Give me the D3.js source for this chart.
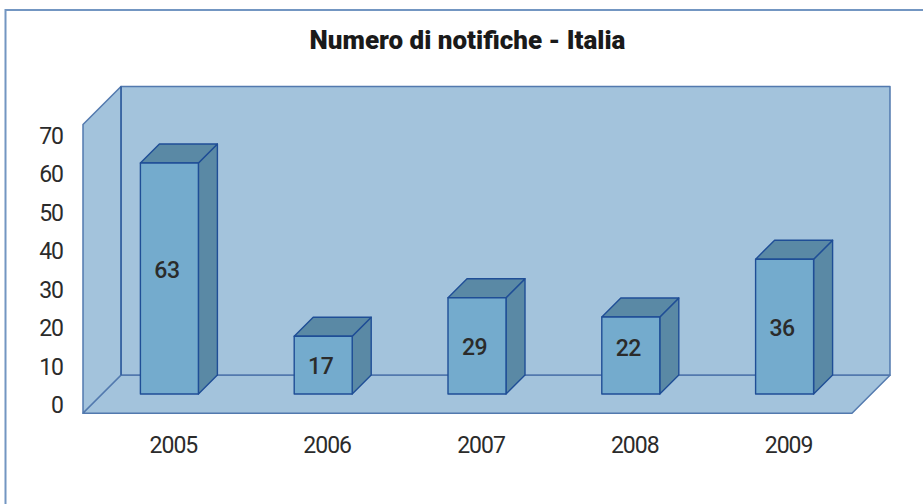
<!DOCTYPE html>
<html>
<head>
<meta charset="utf-8">
<script src="https://cdn.jsdelivr.net/npm/d3@7"></script>
<style>
html, body { margin: 0; padding: 0; background: #fff; overflow: hidden; }
svg { display: block; }
text { font-family: Roboto, sans-serif; fill: #2b2b2b; }
</style>
</head>
<body>
<div id="graphic"></div>
<script>
var years = ['2005','2006','2007','2008','2009'];
// height of each bar against the axis, the printed numbers do not quite agree with it
var barHeights = [60,15,25,20,35];
var barLabels = ['63','17','29','22','36'];
var yTicks = [0,10,20,30,40,50,60,70];

var width = 923, height = 504;
var depth = 19;      // one step of 3d depth, the box is two steps deep
var barWidth = 58;
var floorValue = -5;

var outlineColor = '#1f4e96';
var wallColor = '#a3c3dc';
var wallStroke = '#5279ae';
var barFront = '#74abcd';
var barDark = '#5a89a5';

// the printed numbers are not all in the middle of their bars
var labelShift = [-8.5,1,1,-7.5,1];

var svg = d3.select('#graphic').append('svg')
	.attr('width', width)
	.attr('height', height);

var x = d3.scaleBand().domain(years).range([83,852]);
var y = d3.scaleLinear().domain([0,70]).range([394,124.5]);

var line = d3.line();

// frame runs off the page on the right and at the bottom
svg.append('path')
	.attr('d', line([[5.5,height],[5.5,10],[width,10]]))
	.attr('fill', 'none')
	.attr('stroke', '#7396c2')
	.attr('stroke-width', 2);

svg.append('text')
	.attr('x', 467.5).attr('y', 48.5)
	.attr('text-anchor', 'middle')
	.style('font-size', '26px')
	.style('font-weight', 900)
	.style('fill', '#1a1a1a')
	.text('Numero di notifiche - Italia');

// box corners
var left = x.range()[0], right = x.range()[1];
var yTop = y(70), yFloor = y(floorValue);
var d2 = depth * 2;

function face(points, fill, stroke, sw) {
	svg.append('path')
		.attr('d', line(points) + 'Z')
		.attr('fill', fill)
		.attr('stroke', stroke)
		.attr('stroke-width', sw)
		.attr('stroke-linejoin', 'round');
}

// back wall, side wall, floor
face([[left+d2,yTop-d2],[right+d2,yTop-d2],[right+d2,yFloor-d2],[left+d2,yFloor-d2]], wallColor, wallStroke, 1.5);
face([[left,yTop],[left+d2,yTop-d2],[left+d2,yFloor-d2],[left,yFloor]], wallColor, wallStroke, 1.5);
face([[left,yFloor],[left+d2,yFloor-d2],[right+d2,yFloor-d2],[right,yFloor]], wallColor, wallStroke, 1.5);
svg.append('path')
	.attr('d', line([[left+d2,yTop-d2],[left+d2,yFloor-d2]]))
	.attr('stroke', outlineColor).attr('fill', 'none');

years.forEach(function(year, i) {
	var x0 = x(year) + x.bandwidth() / 2 - barWidth / 2 + 9.5;
	var x1 = x0 + barWidth;
	var y0 = y(0);
	var y1 = y(barHeights[i]);

	face([[x1,y0],[x1+depth,y0-depth],[x1+depth,y1-depth],[x1,y1]], barDark, outlineColor, 1.4);
	face([[x0,y1],[x0+depth,y1-depth],[x1+depth,y1-depth],[x1,y1]], barDark, outlineColor, 1.4);
	face([[x0,y0],[x1,y0],[x1,y1],[x0,y1]], barFront, outlineColor, 1.4);

	svg.append('text')
		.attr('x', x0 + barWidth / 2 - 2.5)
		.attr('y', (y0 + y1) / 2 + 8 + labelShift[i])
		.attr('text-anchor', 'middle')
		.style('font-size', '23px')
		.style('font-weight', 500)
		.style('letter-spacing', '-0.5px')
		.text(barLabels[i]);
});

var yAxis = svg.append('g')
	.attr('transform', 'translate(63,11.5)')
	.call(d3.axisLeft(y).tickValues(yTicks).tickSize(0).tickPadding(0));
yAxis.select('.domain').remove();
yAxis.selectAll('text')
	.style('font-size', '23px')
	.style('font-weight', 400)
	.style('letter-spacing', '-1px');

var xAxis = svg.append('g')
	.attr('transform', 'translate(13.5,436.5)')
	.call(d3.axisBottom(x).tickSize(0).tickPadding(0));
xAxis.select('.domain').remove();
xAxis.selectAll('text')
	.style('font-size', '23px')
	.style('font-weight', 400)
	.style('letter-spacing', '-1px');
</script>
</body>
</html>
